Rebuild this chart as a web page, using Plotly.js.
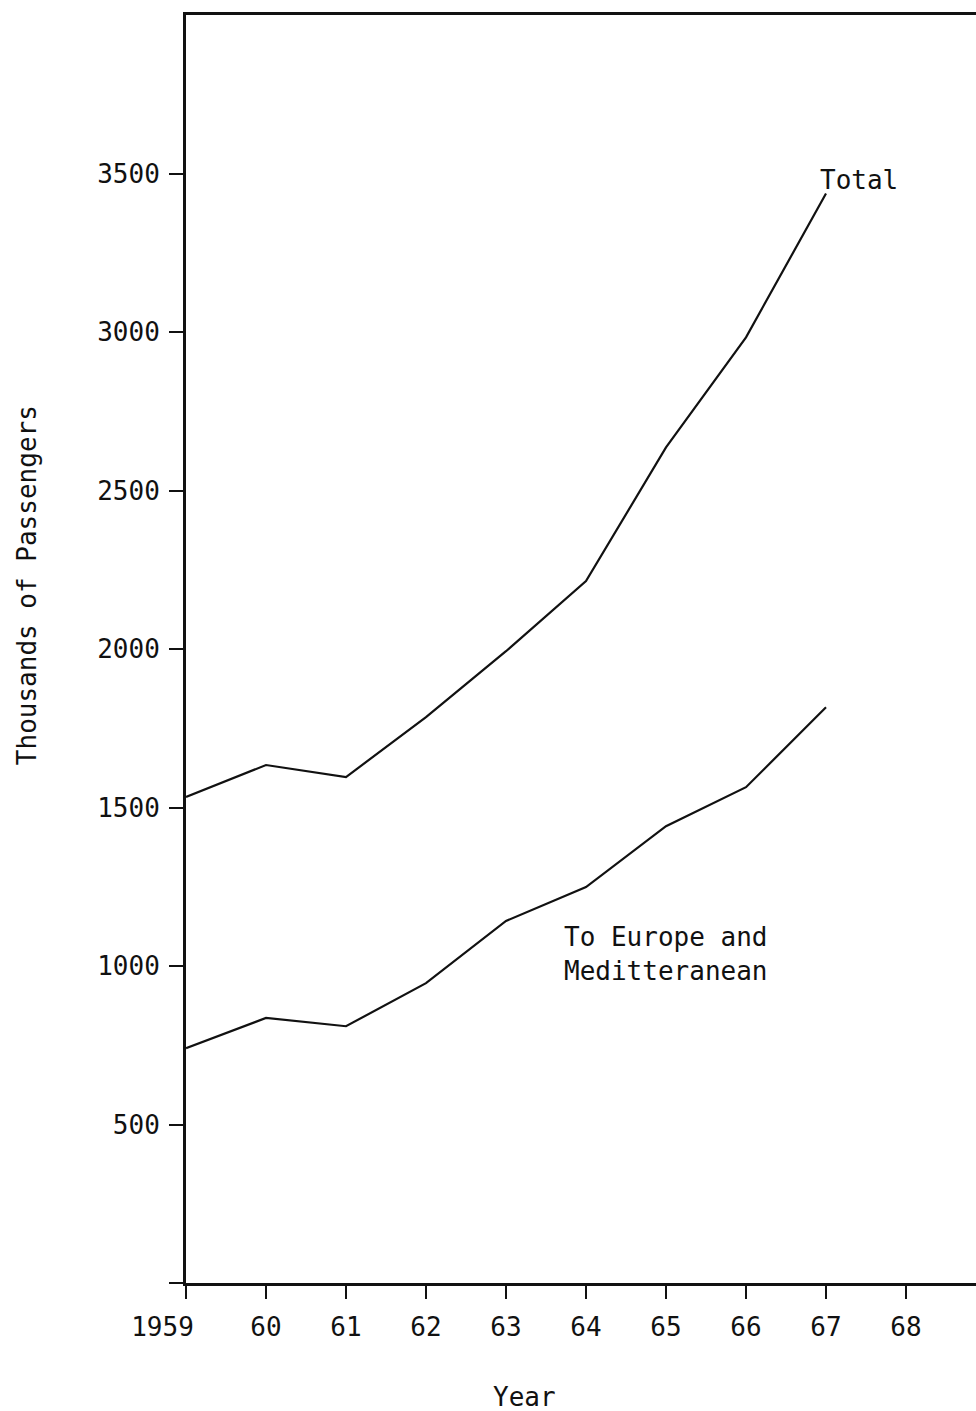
<!DOCTYPE html>
<html>
<head>
<meta charset="utf-8">
<script src="https://cdn.plot.ly/plotly-3.0.1.min.js"></script>
<style>html,body{margin:0;padding:0;background:#fff;}</style>
</head>
<body>
<div id="chart" style="width:976px;height:1411px;"></div>
<script>
const years = [1959, 1960, 1961, 1962, 1963, 1964, 1965, 1966, 1967];
const totalPassengers = [1533, 1634, 1596, 1785, 1993, 2214, 2636, 2983, 3437];
const europePassengers = [741, 836, 810, 946, 1142, 1249, 1441, 1564, 1816];
const xTickVals = [1959, 1960, 1961, 1962, 1963, 1964, 1965, 1966, 1967, 1968];
const xTickText = ['1959\u00a0\u00a0\u00a0', '60', '61', '62', '63', '64', '65', '66', '67', '68'];
const yTickVals = [0, 500, 1000, 1500, 2000, 2500, 3000, 3500];
const yTickText = ['', '500', '1000', '1500', '2000', '2500', '3000', '3500'];

const FONT = 'DejaVu Sans Mono, monospace';
const INK = '#111111';

const traces = [
  {x: years, y: totalPassengers, type: 'scatter', mode: 'lines', name: 'Total',
   line: {color: INK, width: 2.2}},
  {x: years, y: europePassengers, type: 'scatter', mode: 'lines', name: 'To Europe and Meditteranean',
   line: {color: INK, width: 2.2}}
];

const layout = {
  width: 976, height: 1411,
  margin: {l: 186, r: 0, t: 15, b: 128},
  paper_bgcolor: '#ffffff', plot_bgcolor: '#ffffff',
  showlegend: false,
  font: {family: FONT, size: 26, color: INK},
  xaxis: {
    range: [1959, 1968.875],
    tickvals: xTickVals, ticktext: xTickText,
    ticks: 'outside', ticklen: 13, tickwidth: 2.5, tickcolor: INK,
    showline: true, linewidth: 3, linecolor: INK, mirror: true,
    showgrid: false, zeroline: false,
    tickfont: {family: FONT, size: 26, color: INK},
    ticklabelstandoff: 6
  },
  yaxis: {
    range: [0, 4000],
    tickvals: yTickVals, ticktext: yTickText,
    ticks: 'outside', ticklen: 14, tickwidth: 2, tickcolor: INK,
    showline: true, linewidth: 3, linecolor: INK,
    showgrid: false, zeroline: false,
    tickfont: {family: FONT, size: 26, color: INK},
    ticklabelstandoff: 4
  },
  annotations: [
    {text: 'Total', x: 1966.9, y: 3478, xref: 'x', yref: 'y', xanchor: 'left', yanchor: 'middle',
     showarrow: false, font: {family: FONT, size: 26, color: INK}},
    {text: 'To Europe and<br>Meditteranean', x: 1963.7, y: 1037, xref: 'x', yref: 'y',
     xanchor: 'left', yanchor: 'middle', align: 'left',
     showarrow: false, font: {family: FONT, size: 26, color: INK}},
    {text: 'Year', x: 0.429, y: -0.09, xref: 'paper', yref: 'paper', xanchor: 'center', yanchor: 'middle',
     showarrow: false, font: {family: FONT, size: 26, color: INK}},
    {text: 'Thousands of Passengers', x: -0.201, y: 0.5505, xref: 'paper', yref: 'paper',
     xanchor: 'center', yanchor: 'middle', textangle: -90,
     showarrow: false, font: {family: FONT, size: 26, color: INK}}
  ]
};

Plotly.newPlot('chart', traces, layout, {displayModeBar: false, staticPlot: true});
</script>
</body>
</html>
